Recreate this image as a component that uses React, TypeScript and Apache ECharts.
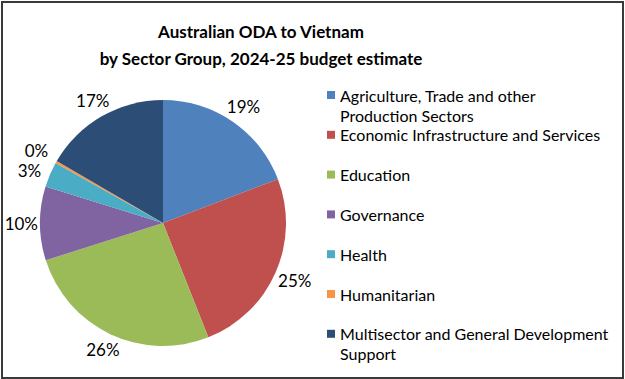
import React, { useEffect, useRef } from "react";
import * as echarts from "echarts";

const titleLines = ["Australian ODA to Vietnam", "by Sector Group, 2024-25 budget estimate"];
const sectors = [
  "Agriculture, Trade and other\nProduction Sectors",
  "Economic Infrastructure and Services",
  "Education",
  "Governance",
  "Health",
  "Humanitarian",
  "Multisector and General Development\nSupport",
];
const shares = [19.2, 24.8, 26.1, 9.7, 3.3, 0.3, 16.6];
const colors = ["#4F81BD", "#C0504D", "#9BBB59", "#8064A2", "#4BACC6", "#F79646", "#2C4D75"];

const FONT = "Lato";
const RADIUS = 123;
const LABEL_HH = 9;
const MIN_SEP = 20;

function labelGap(share: number) {
  return share < 5 ? 8 : 2;
}

export default function App() {
  const ref = useRef<HTMLDivElement>(null);
  useEffect(() => {
    if (!ref.current) return;
    const chart = echarts.init(ref.current, undefined, { renderer: "svg" });
    const total = shares.reduce((a, b) => a + b, 0);
    const mids: number[] = [];
    let acc = 0;
    shares.forEach((s) => {
      mids.push(((acc + s / 2) / total) * Math.PI * 2);
      acc += s;
    });

    const legends = sectors.map((name, i) => {
      const twoLine = name.includes("\n");
      const markerY = 95 + 39.8 * i;
      return {
        orient: "vertical",
        left: 327,
        top: twoLine ? markerY - 30 : markerY - 10,
        padding: 0,
        itemWidth: 8,
        itemHeight: 8,
        itemGap: 5,
        icon: "rect",
        selectedMode: false,
        data: [name],
        formatter: (n: string) => (twoLine ? "\n" + n : n),
        textStyle: { fontFamily: FONT, fontSize: 16, color: "#000", lineHeight: 20 },
      };
    });
    chart.setOption({
      animation: false,
      color: colors,
      legend: legends,
      graphic: [
        {
          type: "rect",
          shape: { x: 2, y: 2, width: 621, height: 376 },
          style: { fill: "none", stroke: "#3a3a3a", lineWidth: 2 },
          silent: true,
        },
        {
          type: "text",
          x: 261,
          y: 18,
          style: {
            text: titleLines.join("\n"),
            align: "center",
            verticalAlign: "top",
            fontFamily: FONT,
            fontSize: 17,
            fontWeight: "bold",
            fill: "#000",
            lineHeight: 27,
          },
          silent: true,
        },
      ],
      series: [
        {
          type: "pie",
          center: [163, 223],
          radius: RADIUS,
          startAngle: 90,
          clockwise: true,
          percentPrecision: 0,
          avoidLabelOverlap: false,
          data: sectors.map((name, i) => ({ name, value: shares[i] })),
          label: {
            show: true,
            position: "outside",
            formatter: "{d}%",
            fontFamily: FONT,
            fontSize: 17,
            lineHeight: 16,
            color: "#000",
          },
          labelLine: { show: true, length: 10, length2: 0, lineStyle: { opacity: 0, width: 0 } },
          labelLayout: (params: any) => {
            const pts = params.labelLinePoints;
            if (!pts || pts.length < 2) return {};
            const p1 = pts[0];
            const p2 = pts[1];
            let dx = p2[0] - p1[0];
            let dy = p2[1] - p1[1];
            const len = Math.hypot(dx, dy) || 1;
            dx /= len;
            dy /= len;
            const cx = p1[0] - dx * RADIUS;
            const cy = p1[1] - dy * RADIUS;
            const hw = params.labelRect.width / 2;
            // place every label just outside the rim, then separate neighbours vertically
            const pos = mids.map((a, j) => {
              const ux = Math.sin(a);
              const uy = -Math.cos(a);
              const t = RADIUS + Math.abs(ux) * hw + Math.abs(uy) * LABEL_HH + labelGap(shares[j]);
              return { j, x: cx + ux * t, y: cy + uy * t };
            });
            [pos.filter((p) => p.x < cx), pos.filter((p) => p.x >= cx)].forEach((side) => {
              side.sort((a, b) => a.y - b.y);
              for (let k = 1; k < side.length; k++) {
                if (side[k].y - side[k - 1].y < MIN_SEP) side[k].y = side[k - 1].y + MIN_SEP;
              }
            });
            const me = pos.find((p) => p.j === params.dataIndex)!;
            return { x: me.x, y: me.y, align: "center", verticalAlign: "middle" };
          },
          itemStyle: { borderWidth: 0 },
          emphasis: { disabled: true },
        },
      ],
    });
    return () => chart.dispose();
  }, []);
  return (
    <div
      ref={ref}
      style={{ position: "fixed", left: 0, top: 0, width: 625, height: 379, background: "#fff" }}
    />
  );
}
